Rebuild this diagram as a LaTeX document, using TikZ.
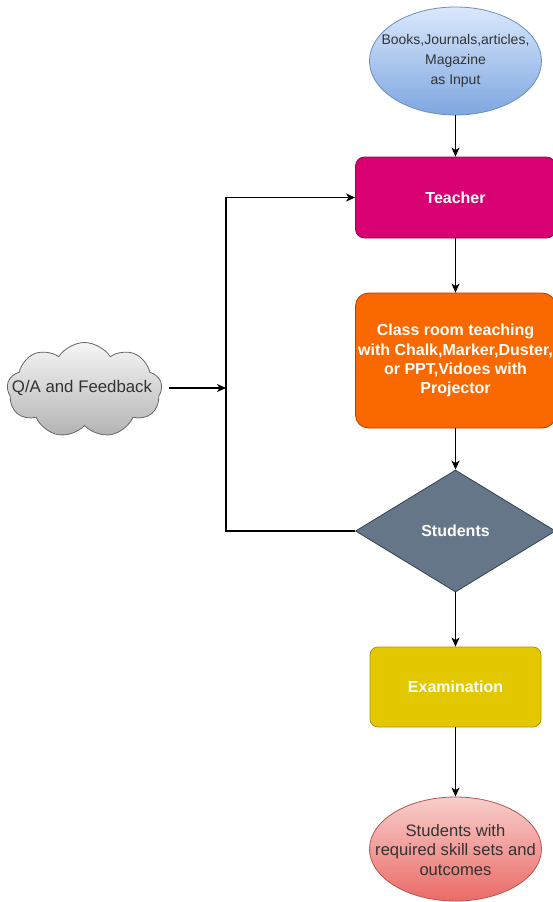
\documentclass[tikz,border=0pt]{standalone}
\usepackage{fontspec}
\setmainfont{Liberation Sans}
\usetikzlibrary{shapes.geometric,shapes.symbols,arrows.meta}
\definecolor{txtdark}{HTML}{333333}
\definecolor{inTop}{HTML}{DAE8FC}
\definecolor{inBot}{HTML}{7EA6E0}
\definecolor{inLine}{HTML}{6C8EBF}
\definecolor{teachFill}{HTML}{D80073}
\definecolor{teachLine}{HTML}{A50040}
\definecolor{clsFill}{HTML}{FA6800}
\definecolor{clsLine}{HTML}{C73500}
\definecolor{stuFill}{HTML}{647687}
\definecolor{stuLine}{HTML}{314354}
\definecolor{exFill}{HTML}{E3C800}
\definecolor{exLine}{HTML}{B09500}
\definecolor{outTop}{HTML}{F8CECC}
\definecolor{outBot}{HTML}{EA6B66}
\definecolor{outLine}{HTML}{B85450}
\definecolor{fbTop}{HTML}{F5F5F5}
\definecolor{fbBot}{HTML}{B3B3B3}
\definecolor{fbLine}{HTML}{666666}
\tikzset{
  arr/.style={line width=1.2pt, -{Stealth[length=9pt,width=8pt,inset=2.5pt]}},
  ovalshape/.style={ellipse, inner sep=0pt, line width=0.8pt},
  boxshape/.style={rectangle, inner sep=0pt, line width=0.8pt, align=center, text=white,
    font=\fontsize{16}{19.2}\selectfont\bfseries},
  lbl/.style={align=center, inner sep=0pt, text=txtdark},
}
\begin{document}
\begin{tikzpicture}[x=1pt,y=-1pt]
\useasboundingbox (0,0) rectangle (553,902);
\clip (0,0) rectangle (553,902);
\fill[white] (0,0) rectangle (553,902);

% input ellipse
\node[ovalshape, draw=inLine, top color=inTop, bottom color=inBot,
  minimum width=172, minimum height=108] (in) at (455.5,61) {};
\node[lbl, font=\fontsize{14}{20}\selectfont] (intext) at (in)
  {Books,Journals,articles,\\Magazine\\as Input};

% teacher
\node[boxshape, draw=teachLine, fill=teachFill, rounded corners=9pt,
  minimum width=200, minimum height=81] (teach) at (455.5,197.5) {Teacher};

% class room
\node[boxshape, draw=clsLine, fill=clsFill, rounded corners=13pt,
  minimum width=200, minimum height=135] (cls) at (455.5,360.5)
  {Class room teaching\\with Chalk,Marker,Duster,\\or PPT,Vidoes with\\Projector};

% students diamond
\node[diamond, inner sep=0pt, line width=0.8pt, draw=stuLine, fill=stuFill,
  minimum width=200, minimum height=122, text=white,
  font=\fontsize{16}{19.2}\selectfont\bfseries] (stu) at (455.5,531) {Students};

% examination
\node[boxshape, draw=exLine, fill=exFill, rounded corners=8pt,
  minimum width=171, minimum height=80] (exam) at (455.5,687) {Examination};

% outcome ellipse
\node[ovalshape, draw=outLine, top color=outTop, bottom color=outBot,
  minimum width=172, minimum height=104] (out) at (455.5,849) {};
\node[lbl, font=\fontsize{16.6}{19.6}\selectfont] (outtext) at (455.5,850)
  {Students with\\required skill sets and\\outcomes};

% feedback cloud
\node[cloud, cloud puffs=9, cloud puff arc=115, aspect=1.6, inner sep=0pt,
  draw=fbLine, line width=0.8pt, top color=fbTop, bottom color=fbBot,
  minimum width=155, minimum height=95] (fb) at (84.5,390) {};
\node[lbl, font=\fontsize{16.8}{20}\selectfont] (fbtext) at (82,387.5) {Q/A and Feedback};

% connectors
\coordinate (join) at (226,388);
\coordinate (bend) at (226,531);
\draw[arr] (in) -- (teach);
\draw[arr] (teach) -- (cls);
\draw[arr] (cls) -- (stu);
\draw[arr] (stu) -- (exam);
\draw[arr] (exam) -- (out);
\draw[arr] (169,388) -- (join);
\draw[arr] (stu.west) -- (bend) |- (teach.west);
\end{tikzpicture}
\end{document}
